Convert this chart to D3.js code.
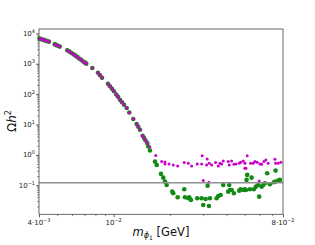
<!DOCTYPE html>
<html>
<head>
<script src="https://d3js.org/d3.v7.min.js"></script>
<style>
  body { margin: 0; background: #fff; }
  text { font-family: "DejaVu Sans", sans-serif; }
</style>
</head>
<body>
<svg id="chart" width="315" height="245"></svg>
<script>
// relic density vs mass
// both series lie on the same curve below ~0.015 GeV
const curveMass = [0.00403,0.00410,0.00418,0.00425,0.00433,0.00441,0.00452,
  0.00485,0.00493,0.00502,0.00516,
  0.00566,0.00582,0.00596,0.00611,0.00626,0.00642,0.00658,0.00674,0.00691,0.00704,0.00715,
  0.00770,0.00825,0.00846,0.00867,
  0.00933,0.00956,0.00980,0.01004,0.01033,0.01055,0.01081,0.01108,0.01136,0.01174,
  0.01212,0.01273,0.01327,0.01353,0.01382,0.01428,0.01451,0.01478,0.01511];
const curveOmega = [6740,6490,6250,6010,5790,5570,5360,
  4370,4180,3960,3670,
  2770,2510,2270,2040,1850,1650,1470,1320,1170,1090,1010,
  727,509,421,348,
  220,182,151,125,97.8,82.1,65.4,54.1,44.7,34.8,
  24.9,15.1,10.3,8.40,6.69,4.24,3.64,3.01,2.43];

const greenMass = [0.01530,0.01562,0.01662,0.01697,0.01788,0.01840,0.01878,0.01918,
  0.02054,0.02079,0.02195,0.02380,0.02400,0.02500,0.02531,0.02584,0.02792,0.02945,
  0.03094,0.03262,0.03004,0.03222,0.03170,0.03541,0.03612,0.03720,0.03840,0.04134,
  0.04170,0.04084,0.04258,0.04380,0.04674,0.04756,0.04910,0.05013,0.05075,0.05118,
  0.05156,0.05440,0.05329,0.05597,0.05736,0.05900,0.05973,0.06151,0.06273,0.06405,
  0.06588,0.06810,0.07152,0.07303,0.07540,0.07699,0.07303];
const greenOmega = [1.88,1.39,0.601,0.468,0.236,0.178,0.132,0.102,
  0.0615,0.0545,0.0402,0.0738,0.0402,0.0372,0.0402,0.0327,0.0372,0.0372,
  0.0353,0.0372,0.0224,0.0207,0.0971,0.0372,0.0444,0.0479,0.102,0.102,
  0.0700,0.0615,0.0700,0.0545,0.0664,0.0738,0.0700,0.0738,0.0700,0.150,
  0.219,0.178,0.0738,0.0738,0.0900,0.102,0.0421,0.0900,0.102,0.116,
  0.249,0.108,0.126,0.132,0.142,0.150,0.303];

const magentaMass = [0.01562,0.01677,0.01804,0.01878,0.01878,0.01973,0.02079,0.02195,
  0.02380,0.02500,0.02606,0.02792,0.02945,0.02967,0.03132,0.03155,0.03234,0.03331,
  0.03498,0.03612,0.03688,0.03766,0.03840,0.04084,0.04134,0.04258,0.04380,0.04489,
  0.04674,0.04756,0.04910,0.05013,0.05156,0.05013,0.05075,0.05375,0.05549,0.05666,
  0.05828,0.06024,0.06151,0.06327,0.06484,0.06669,0.07241,0.07303,0.07540,0.07793,
  0.03004,0.03222,0.05973];
const magentaOmega = [1.80,0.948,0.601,0.587,0.505,0.505,0.468,0.434,
  0.557,0.532,0.434,0.505,0.505,0.927,0.468,0.738,0.532,0.468,
  0.557,0.434,0.532,0.505,0.634,0.601,0.468,0.634,0.493,0.505,
  0.532,0.574,0.634,0.532,0.927,0.364,0.364,0.532,0.532,0.601,
  0.574,0.505,0.493,0.601,0.684,0.532,0.721,0.532,0.532,0.574,
  0.142,0.126,0.139];

const planckOmega = 0.12;

const xMajor = [0.004, 0.01, 0.08];
const xMajorLabels = [["4\u00b710", "\u22123"], ["10", "\u22122"], ["8\u00b710", "\u22122"]];
const yMajor = [0.1, 1, 10, 100, 1000, 10000];
const yMajorExp = ["\u22121", "0", "1", "2", "3", "4"];

const svg = d3.select('#chart');
const padL = 39, padR = 283, padT = 29, padB = 214.3;

const x = d3.scaleLog().domain([0.004, 0.08]).range([padL, padR]);
const y = d3.scaleLog().domain([Math.pow(10, -1.957), Math.pow(10, 4.145)]).range([padB, padT]);

// minor ticks
const xMinor = x.ticks().filter(v => !xMajor.some(m => Math.abs(m - v) / m < 1e-6));
const yMinor = y.ticks().filter(v => !yMajor.some(m => Math.abs(m - v) / m < 1e-6));

svg.append('g')
  .attr('transform', `translate(0,${padB})`)
  .call(d3.axisBottom(x).tickValues(xMinor).tickSize(1.8).tickFormat(''))
  .call(g => g.select('.domain').remove())
  .call(g => g.selectAll('line').attr('stroke', '#333').attr('stroke-width', 0.6));
svg.append('g')
  .attr('transform', `translate(0,${padB})`)
  .call(d3.axisBottom(x).tickValues(xMajor).tickSize(3).tickFormat(''))
  .call(g => g.select('.domain').remove())
  .call(g => g.selectAll('line').attr('stroke', '#333').attr('stroke-width', 0.8));
svg.append('g')
  .attr('transform', `translate(${padL},0)`)
  .call(d3.axisLeft(y).tickValues(yMinor).tickSize(1.8).tickFormat(''))
  .call(g => g.select('.domain').remove())
  .call(g => g.selectAll('line').attr('stroke', '#333').attr('stroke-width', 0.6));
svg.append('g')
  .attr('transform', `translate(${padL},0)`)
  .call(d3.axisLeft(y).tickValues(yMajor).tickSize(3).tickFormat(''))
  .call(g => g.select('.domain').remove())
  .call(g => g.selectAll('line').attr('stroke', '#333').attr('stroke-width', 0.8));

// tick labels
xMajor.forEach((v, i) => {
  const t = svg.append('text')
    .attr('x', x(v)).attr('y', padB + 10.5)
    .attr('text-anchor', 'middle')
    .style('font-size', '7px').attr('fill', '#222');
  t.append('tspan').text(xMajorLabels[i][0]);
  t.append('tspan').attr('dy', -3).style('font-size', '5px').text(xMajorLabels[i][1]);
});
yMajor.forEach((v, i) => {
  const t = svg.append('text')
    .attr('x', padL - 4).attr('y', y(v) + 2.5)
    .attr('text-anchor', 'end')
    .style('font-size', '7px').attr('fill', '#222');
  t.append('tspan').text('10');
  t.append('tspan').attr('dy', -3).style('font-size', '5px').text(yMajorExp[i]);
});

// points
const curve = curveMass.map((m, i) => ({m: m, o: curveOmega[i]}));
const green = curve.concat(greenMass.map((m, i) => ({m: m, o: greenOmega[i]})));
const magenta = curve.concat(magentaMass.map((m, i) => ({m: m, o: magentaOmega[i]})));

svg.append('g').selectAll('circle').data(green).join('circle')
  .attr('cx', d => x(d.m)).attr('cy', d => y(d.o))
  .attr('r', 2.3).attr('fill', '#138a13');

svg.append('g').selectAll('circle').data(magenta).join('circle')
  .attr('cx', d => x(d.m)).attr('cy', d => y(d.o))
  .attr('r', 1.5).attr('fill', '#c800c8');

// Planck value
svg.append('line')
  .attr('x1', padL).attr('x2', padR)
  .attr('y1', y(planckOmega)).attr('y2', y(planckOmega))
  .attr('stroke', '#909090').attr('stroke-width', 1.5);

// frame
svg.append('rect')
  .attr('x', padL).attr('y', padT)
  .attr('width', padR - padL).attr('height', padB - padT)
  .attr('fill', 'none').attr('stroke', '#444').attr('stroke-width', 0.8);

// axis labels
const xl = svg.append('text')
  .attr('x', 161).attr('y', 235.5)
  .attr('text-anchor', 'middle')
  .style('font-size', '11.5px').attr('fill', '#111');
xl.append('tspan').style('font-style', 'italic').text('m');
xl.append('tspan').attr('dy', 2.5).style('font-size', '8px').style('font-style', 'italic').text('\u03d5');
xl.append('tspan').attr('dy', 1.5).style('font-size', '6px').text('1');
xl.append('tspan').attr('dy', -4).text(' [GeV]');

const yl = svg.append('text')
  .attr('transform', 'translate(16,121) rotate(-90)')
  .attr('text-anchor', 'middle')
  .style('font-size', '12px').attr('fill', '#111');
yl.append('tspan').text('\u03a9');
yl.append('tspan').style('font-style', 'italic').text('h');
yl.append('tspan').attr('dy', -5).style('font-size', '8px').text('2');
</script>
</body>
</html>
